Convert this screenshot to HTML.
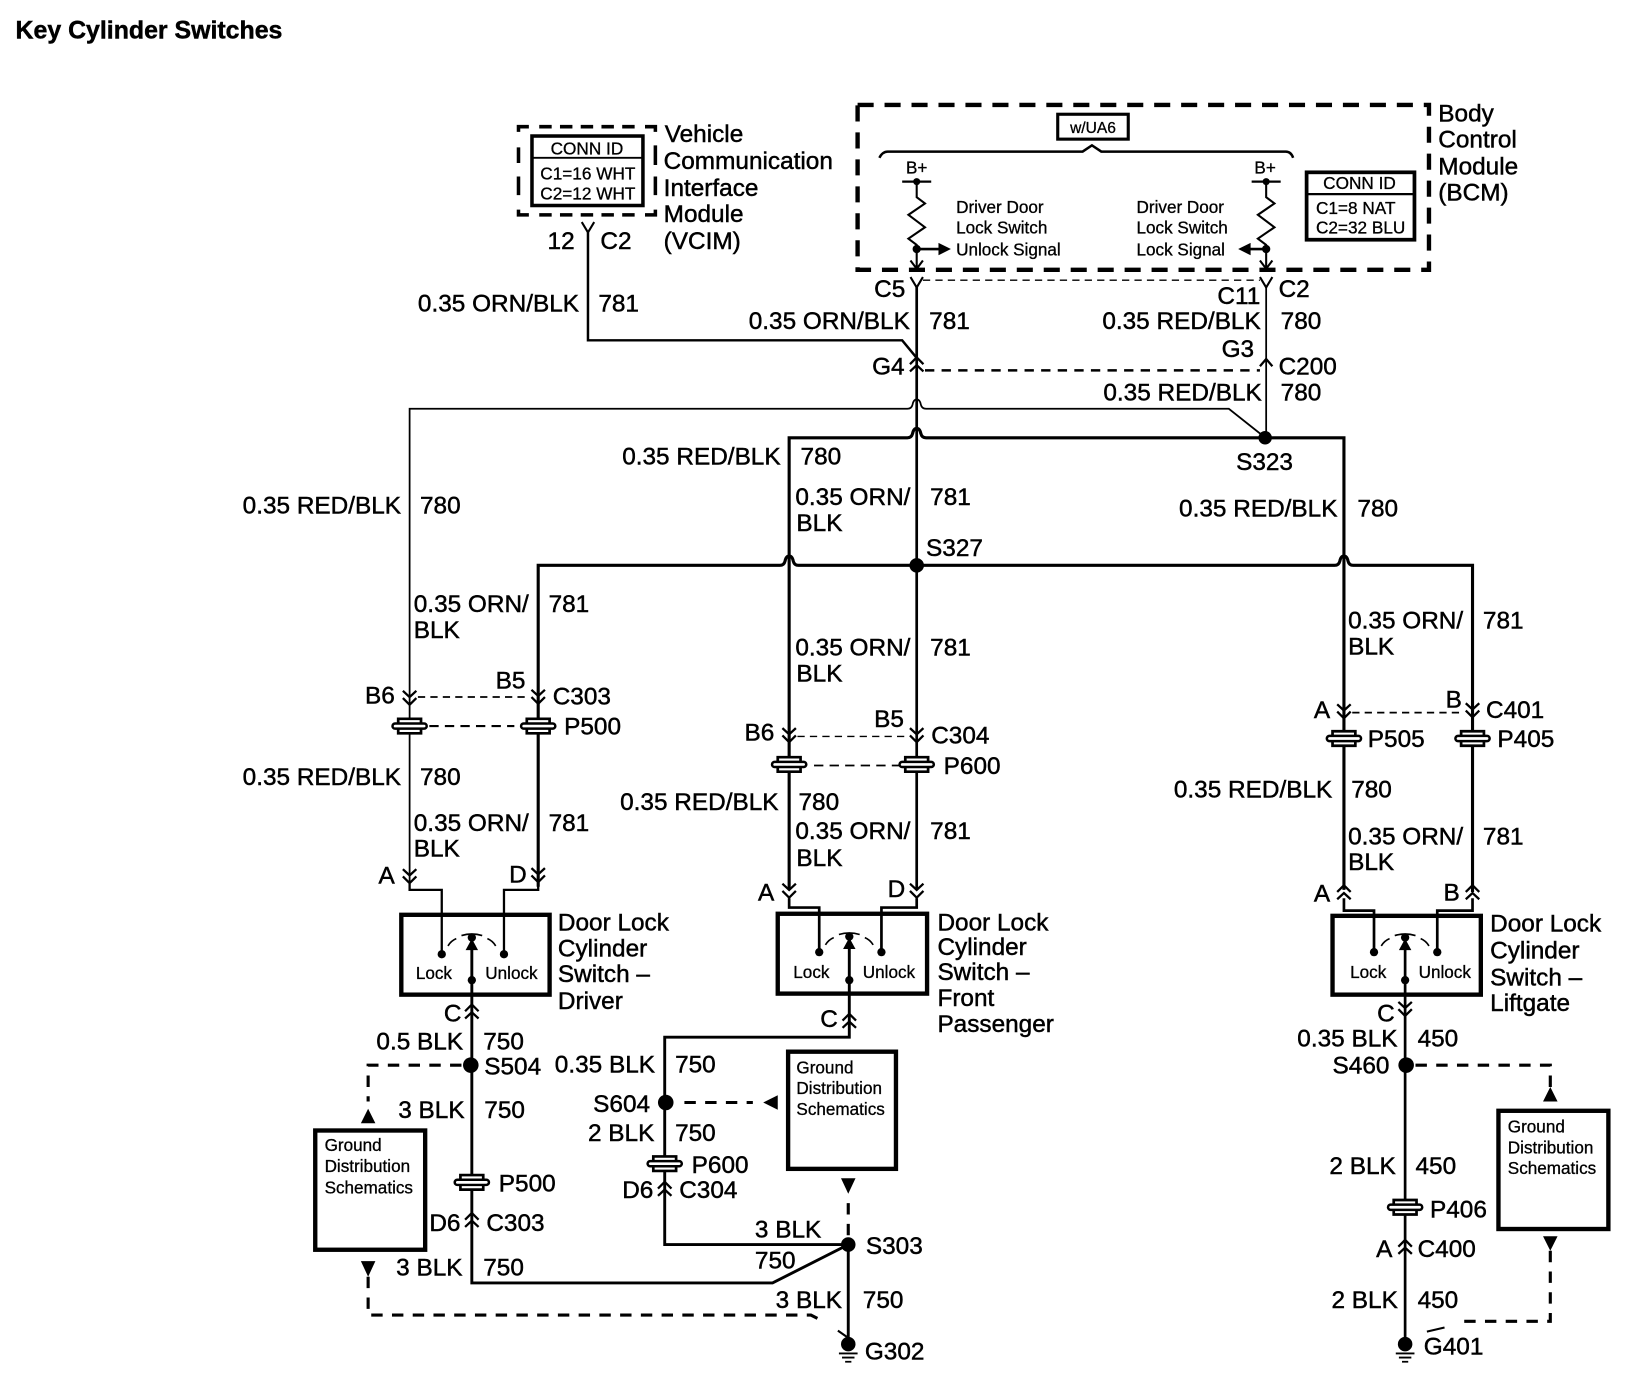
<!DOCTYPE html>
<html><head><meta charset="utf-8"><title>Key Cylinder Switches</title>
<style>
html,body{margin:0;padding:0;background:#fff}
svg{display:block}
text{font-family:"Liberation Sans",Arial,sans-serif;font-size:23.5px;fill:#000;stroke:#000;stroke-width:.45px}
.s{font-size:16.5px;stroke-width:.3px}
.c{font-size:16.6px;stroke-width:.3px}
.w{fill:none;stroke:#000;stroke-width:3}
.t{fill:none;stroke:#000;stroke-width:1.7}
.d{fill:none;stroke:#000;stroke-width:3;stroke-dasharray:11 9}
.dt{fill:none;stroke:#000;stroke-width:1.7;stroke-dasharray:7 5}
.b{fill:#fff;stroke:#000;stroke-width:4.2}
</style></head><body>
<svg xmlns="http://www.w3.org/2000/svg" width="1626" height="1392" viewBox="0 0 1568 1342">
<defs>
<g id="dn"><path d="M-6.5-7 0-1 6.5-7M-6.5 0 0 6.5 6.5 0" fill="none" stroke="#000" stroke-width="2.2"/></g>
<g id="up"><path d="M-6.5 7 0 1 6.5 7M-6.5 0 0-6.5 6.5 0" fill="none" stroke="#000" stroke-width="2.2"/></g>
<g id="y"><path d="M-6-6 0 4 6-6" fill="none" stroke="#000" stroke-width="2"/></g>
<g id="gr"><path d="M-11-2V-7H11V-2M-11 2V7H11V2" fill="#fff" stroke="#000" stroke-width="2.6"/><rect x="-16.5" y="-2.5" width="33" height="5" rx="2.5" fill="#fff" stroke="#000" stroke-width="2.4"/></g>
<g id="sw"><path d="M-23 8Q-20 3-15 1M-10-2Q0-5 10-2M15 1Q20 3 23 8" fill="none" stroke="#000" stroke-width="1.6"/><circle r="4"/><path d="M-6 12 0 1 6 12Z"/></g>
<g id="gnd"><circle r="7"/><path d="M-9 9H9M-6 13H6M-3 17H3" stroke="#000" stroke-width="1.8"/></g>
</defs>

<text x="15" y="37" style="font-size:24px;font-weight:bold">Key Cylinder Switches</text>

<!-- VCIM -->
<path fill="none" stroke="#000" stroke-width="3.4" d="M500 127V122H510M520 122H532M540 122H552M560 122H572M580 122H592M600 122H612M622 122H632V127M632 140V159M632 170V188M632 202V207H622M612 207H600M592 207H580M572 207H560M552 207H540M532 207H520M510 207H500V202M500 188V170M500 157V142"/>
<rect x="513" y="131" width="107" height="67" fill="#fff" stroke="#000" stroke-width="3.4"/>
<path d="M513 152H620" stroke="#000" stroke-width="1.8"/>
<text class="c" x="566" y="149" text-anchor="middle">CONN ID</text>
<text class="c" x="521" y="173">C1=16 WHT</text>
<text class="c" x="521" y="192">C2=12 WHT</text>
<use href="#y" x="567" y="220"/>
<path class="w" d="M567 224V328H870L884 345" style="stroke-width:2.4"/>
<text x="528" y="240">12</text><text x="579" y="240">C2</text>
<text x="641" y="137">Vehicle</text><text x="640" y="163">Communication</text><text x="640" y="189">Interface</text><text x="640" y="214">Module</text><text x="640" y="240">(VCIM)</text>
<text x="403" y="300">0.35 ORN/BLK</text><text x="577" y="300">781</text>

<!-- BCM -->
<path d="M827 101H1378V260H827Z" fill="none" stroke="#000" stroke-width="4.2" stroke-dasharray="15.5 10.5"/>
<rect x="1020" y="110" width="68" height="24" fill="#fff" stroke="#000" stroke-width="3"/>
<text x="1054" y="128" text-anchor="middle" style="font-size:15px;stroke-width:.3px">w/UA6</text>
<path class="w" style="stroke-width:2.4" d="M848 152Q851 146 856 146H1044L1053 140 1062 146H1240Q1245 146 1247 152"/>
<text class="s" x="884" y="167" text-anchor="middle">B+</text>
<text class="s" x="1220" y="167" text-anchor="middle">B+</text>
<path d="M870 175H898M1207 175H1235" stroke="#000" stroke-width="2.2"/>
<circle cx="884" cy="175" r="3.4"/><circle cx="1221" cy="175" r="3.4"/>
<path class="t" style="stroke-width:2" d="M884 175V190L892 196 876 207 892 219 876 230 884 236V260M878 251 884 259 890 251"/>
<path class="t" style="stroke-width:2" d="M1221 175V190L1229 196 1213 207 1229 219 1213 230 1221 236V260M1215 251 1221 259 1227 251"/>
<circle cx="884" cy="240" r="4"/><circle cx="1221" cy="240" r="4"/>
<path d="M884 240H906M1205 240H1221" stroke="#000" stroke-width="2.6"/>
<path d="M905 234 917 240 905 246ZM1206 234 1194 240 1206 246Z"/>
<text class="s" x="922" y="205">Driver Door</text><text class="s" x="922" y="225">Lock Switch</text><text class="s" x="922" y="246">Unlock Signal</text>
<text class="s" x="1096" y="205">Driver Door</text><text class="s" x="1096" y="225">Lock Switch</text><text class="s" x="1096" y="246">Lock Signal</text>
<rect x="1260" y="166" width="104" height="65" fill="#fff" stroke="#000" stroke-width="3.6"/>
<path d="M1260 187H1364" stroke="#000" stroke-width="2.2"/>
<text class="c" x="1311" y="182" text-anchor="middle">CONN ID</text>
<text class="c" x="1269" y="206">C1=8 NAT</text><text class="c" x="1269" y="225">C2=32 BLU</text>
<text x="1387" y="117">Body</text><text x="1387" y="142">Control</text><text x="1387" y="168">Module</text><text x="1387" y="193">(BCM)</text>

<!-- Top connectors -->
<use href="#y" x="884" y="273"/><use href="#y" x="1221" y="273"/>
<path class="dt" d="M890 270H1215" style="stroke-width:1.4"/>
<text x="843" y="286">C5</text><text x="1233" y="286">C2</text><text x="1174" y="293">C11</text>
<text x="722" y="317">0.35 ORN/BLK</text><text x="896" y="317">781</text>
<text x="1063" y="317">0.35 RED/BLK</text><text x="1235" y="317">780</text>
<text x="1178" y="344">G3</text><text x="841" y="361">G4</text><text x="1233" y="361">C200</text>
<use href="#up" x="884" y="351"/><path d="M1215 353 1221 346 1227 353" fill="none" stroke="#000" stroke-width="2.2"/>
<path class="d" d="M892 357H1215" style="stroke-width:2.4;stroke-dasharray:9 7"/>
<text x="1064" y="386">0.35 RED/BLK</text><text x="1235" y="386">780</text>

<!-- Main runs -->
<path class="w" d="M884 276V858" style="stroke-width:2.6"/>
<path class="t" d="M1221 276V422"/>
<path class="t" d="M395 858V394H875Q879 394 880 390 881 385 884 385 887 385 888 390 889 394 893 394H1185L1219 421"/>
<path class="w" d="M761 858V422H875Q879 422 880 418 881 413 884 413 887 413 888 418 889 422 893 422H1296V858"/>
<path class="w" d="M519 855V545H752Q756 545 757 541 758 536 761 536 764 536 765 541 766 545 770 545H1287Q1291 545 1292 541 1293 536 1296 536 1299 536 1300 541 1301 545 1305 545H1420V860"/>
<circle cx="1220" cy="422" r="6.5"/><circle cx="884" cy="545" r="7"/>
<text x="1192" y="453">S323</text><text x="893" y="536">S327</text>
<text x="600" y="448">0.35 RED/BLK</text><text x="772" y="448">780</text>
<text x="767" y="487">0.35 ORN/</text><text x="768" y="512">BLK</text><text x="897" y="487">781</text>
<text x="1137" y="498">0.35 RED/BLK</text><text x="1309" y="498">780</text>
<text x="234" y="495">0.35 RED/BLK</text><text x="405" y="495">780</text>
<text x="399" y="590">0.35 ORN/</text><text x="399" y="615">BLK</text><text x="529" y="590">781</text>
<text x="767" y="632">0.35 ORN/</text><text x="768" y="657">BLK</text><text x="897" y="632">781</text>
<text x="1300" y="606">0.35 ORN/</text><text x="1300" y="631">BLK</text><text x="1430" y="606">781</text>

<!-- Driver inline -->
<use href="#dn" x="395" y="673"/><use href="#dn" x="519" y="672"/>
<path class="dt" d="M403 672H511"/>
<use href="#gr" x="395" y="700"/><use href="#gr" x="519" y="700"/>
<path class="d" d="M414 700H496" style="stroke-width:2;stroke-dasharray:9 6"/>
<text x="352" y="678">B6</text><text x="478" y="664">B5</text><text x="533" y="679">C303</text><text x="544" y="708">P500</text>
<text x="234" y="757">0.35 RED/BLK</text><text x="405" y="757">780</text>
<text x="399" y="801">0.35 ORN/</text><text x="399" y="826">BLK</text><text x="529" y="801">781</text>
<use href="#dn" x="395" y="845"/><use href="#dn" x="519" y="844"/>
<text x="365" y="852">A</text><text x="491" y="851">D</text>

<!-- Passenger inline -->
<use href="#dn" x="761" y="709"/><use href="#dn" x="884" y="709"/>
<path class="dt" d="M769 710H877" style="stroke-width:1.4"/>
<use href="#gr" x="761" y="737"/><use href="#gr" x="884" y="737"/>
<path class="dt" d="M785 738H868" style="stroke-dasharray:9 6"/>
<text x="718" y="714">B6</text><text x="843" y="701">B5</text><text x="898" y="717">C304</text><text x="910" y="746">P600</text>
<text x="598" y="781">0.35 RED/BLK</text><text x="770" y="781">780</text>
<text x="767" y="809">0.35 ORN/</text><text x="768" y="835">BLK</text><text x="897" y="809">781</text>
<use href="#dn" x="761" y="859"/><use href="#dn" x="884" y="859"/>
<text x="731" y="868">A</text><text x="856" y="865">D</text>

<!-- Liftgate inline -->
<use href="#dn" x="1296" y="686"/><use href="#dn" x="1420" y="685"/>
<path class="dt" d="M1304 687H1412"/>
<use href="#gr" x="1296" y="712"/><use href="#gr" x="1420" y="712"/>
<text x="1267" y="692">A</text><text x="1394" y="682">B</text><text x="1433" y="692">C401</text><text x="1319" y="720">P505</text><text x="1444" y="720">P405</text>
<text x="1132" y="769">0.35 RED/BLK</text><text x="1303" y="769">780</text>
<text x="1300" y="814">0.35 ORN/</text><text x="1300" y="839">BLK</text><text x="1430" y="814">781</text>
<use href="#up" x="1296" y="860"/><use href="#up" x="1420" y="860"/>
<text x="1267" y="869">A</text><text x="1392" y="868">B</text>

<!-- Switch boxes -->
<rect x="387" y="882" width="143" height="77" fill="#fff" stroke="#000" stroke-width="4.2"/>
<rect x="750" y="881" width="144" height="77" fill="#fff" stroke="#000" stroke-width="4.2"/>
<rect x="1285" y="883" width="143" height="76" fill="#fff" stroke="#000" stroke-width="4.2"/>
<path class="t" d="M395 852V858H426V920M519 852V858H486V920" style="stroke-width:2.2"/>
<path class="w" d="M761 866V875H790V918M884 866V875H850V918" style="stroke-width:2.6"/>
<path class="w" d="M1296 866V878H1325V918M1420 866V878H1386V918" style="stroke-width:2.6"/>
<circle cx="426" cy="920" r="4"/><circle cx="486" cy="920" r="4"/>
<circle cx="790" cy="918" r="4"/><circle cx="850" cy="918" r="4"/>
<circle cx="1325" cy="918" r="4"/><circle cx="1386" cy="918" r="4"/>
<use href="#sw" x="455" y="904"/><use href="#sw" x="819" y="903"/><use href="#sw" x="1355" y="904"/>
<circle cx="455" cy="945" r="4"/><circle cx="819" cy="945" r="4"/><circle cx="1355" cy="945" r="4"/>
<text class="s" x="401" y="944">Lock</text><text class="s" x="468" y="944">Unlock</text>
<text class="s" x="765" y="943">Lock</text><text class="s" x="832" y="943">Unlock</text>
<text class="s" x="1302" y="943">Lock</text><text class="s" x="1368" y="943">Unlock</text>
<text x="538" y="897">Door Lock</text><text x="538" y="922">Cylinder</text><text x="538" y="947">Switch –</text><text x="538" y="973">Driver</text>
<text x="904" y="897">Door Lock</text><text x="904" y="921">Cylinder</text><text x="904" y="945">Switch –</text><text x="904" y="970">Front</text><text x="904" y="995">Passenger</text>
<text x="1437" y="898">Door Lock</text><text x="1437" y="924">Cylinder</text><text x="1437" y="950">Switch –</text><text x="1437" y="975">Liftgate</text>

<!-- Lower wiring -->
<path class="w" d="M455 905V1237H745L818 1200V1290" style="stroke-width:2.8"/>
<path class="w" d="M819 905V1000H641V1200H818" style="stroke-width:2.8"/>
<path class="w" d="M1355 905V1296" style="stroke-width:2.6"/>
<use href="#up" x="455" y="975"/><use href="#up" x="819" y="984"/><use href="#dn" x="1355" y="973"/>
<text x="428" y="985">C</text><text x="791" y="990">C</text><text x="1328" y="985">C</text>
<text x="363" y="1012">0.5 BLK</text><text x="466" y="1012">750</text>
<circle cx="454" cy="1027" r="7.5"/><text x="467" y="1036">S504</text>
<text x="384" y="1078">3 BLK</text><text x="467" y="1078">750</text>
<use href="#gr" x="455" y="1140"/><text x="481" y="1149">P500</text>
<use href="#up" x="455" y="1176"/><text x="414" y="1187">D6</text><text x="469" y="1187">C303</text>
<text x="382" y="1230">3 BLK</text><text x="466" y="1230">750</text>

<text x="535" y="1034">0.35 BLK</text><text x="651" y="1034">750</text>
<circle cx="642" cy="1063" r="7.5"/><text x="572" y="1072">S604</text>
<text x="567" y="1100">2 BLK</text><text x="651" y="1100">750</text>
<use href="#gr" x="641" y="1122"/><text x="667" y="1131">P600</text>
<use href="#up" x="641" y="1146"/><text x="600" y="1155">D6</text><text x="655" y="1155">C304</text>
<circle cx="818" cy="1200" r="7"/><text x="835" y="1209">S303</text>
<text x="728" y="1193">3 BLK</text><text x="728" y="1223">750</text>
<text x="748" y="1261">3 BLK</text><text x="832" y="1261">750</text>
<use href="#gnd" x="818" y="1296"/><text x="834" y="1311">G302</text>

<!-- Ground boxes -->
<rect class="b" x="304" y="1090" width="106" height="115"/>
<text class="s" x="313" y="1110">Ground</text><text class="s" x="313" y="1130">Distribution</text><text class="s" x="313" y="1151">Schematics</text>
<path class="d" d="M445 1027H355V1062"/>
<path d="M355 1069 362 1083H348Z"/>
<path d="M348 1216H362L355 1231Z"/>
<path class="d" d="M355 1231V1268H782L796 1275"/>
<path d="M808 1283 818 1290" stroke="#000" stroke-width="2"/>

<rect class="b" x="760" y="1014" width="104" height="113"/>
<text class="s" x="768" y="1035">Ground</text><text class="s" x="768" y="1055">Distribution</text><text class="s" x="768" y="1075">Schematics</text>
<path class="d" d="M660 1063H726"/>
<path d="M736 1063 750 1056V1070Z"/>
<path d="M811 1136H825L818 1151Z"/>
<path class="d" d="M818 1160V1192"/>

<rect class="b" x="1445" y="1071" width="106" height="114"/>
<text class="s" x="1454" y="1092">Ground</text><text class="s" x="1454" y="1112">Distribution</text><text class="s" x="1454" y="1132">Schematics</text>
<circle cx="1356" cy="1027" r="7.5"/>
<text x="1251" y="1009">0.35 BLK</text><text x="1367" y="1009">450</text><text x="1285" y="1035">S460</text>
<path class="d" d="M1365 1027H1495V1048"/>
<path d="M1495 1048 1502 1062H1488Z"/>
<path d="M1488 1192H1502L1495 1206Z"/>
<path class="d" d="M1495 1206V1274H1405"/>
<path d="M1376 1284 1393 1280" stroke="#000" stroke-width="2"/>
<text x="1282" y="1132">2 BLK</text><text x="1365" y="1132">450</text>
<use href="#gr" x="1355" y="1164"/><text x="1379" y="1174">P406</text>
<use href="#up" x="1355" y="1202"/><text x="1327" y="1212">A</text><text x="1367" y="1212">C400</text>
<text x="1284" y="1261">2 BLK</text><text x="1367" y="1261">450</text>
<use href="#gnd" x="1355" y="1296"/><text x="1373" y="1306">G401</text>
</svg>
</body></html>
